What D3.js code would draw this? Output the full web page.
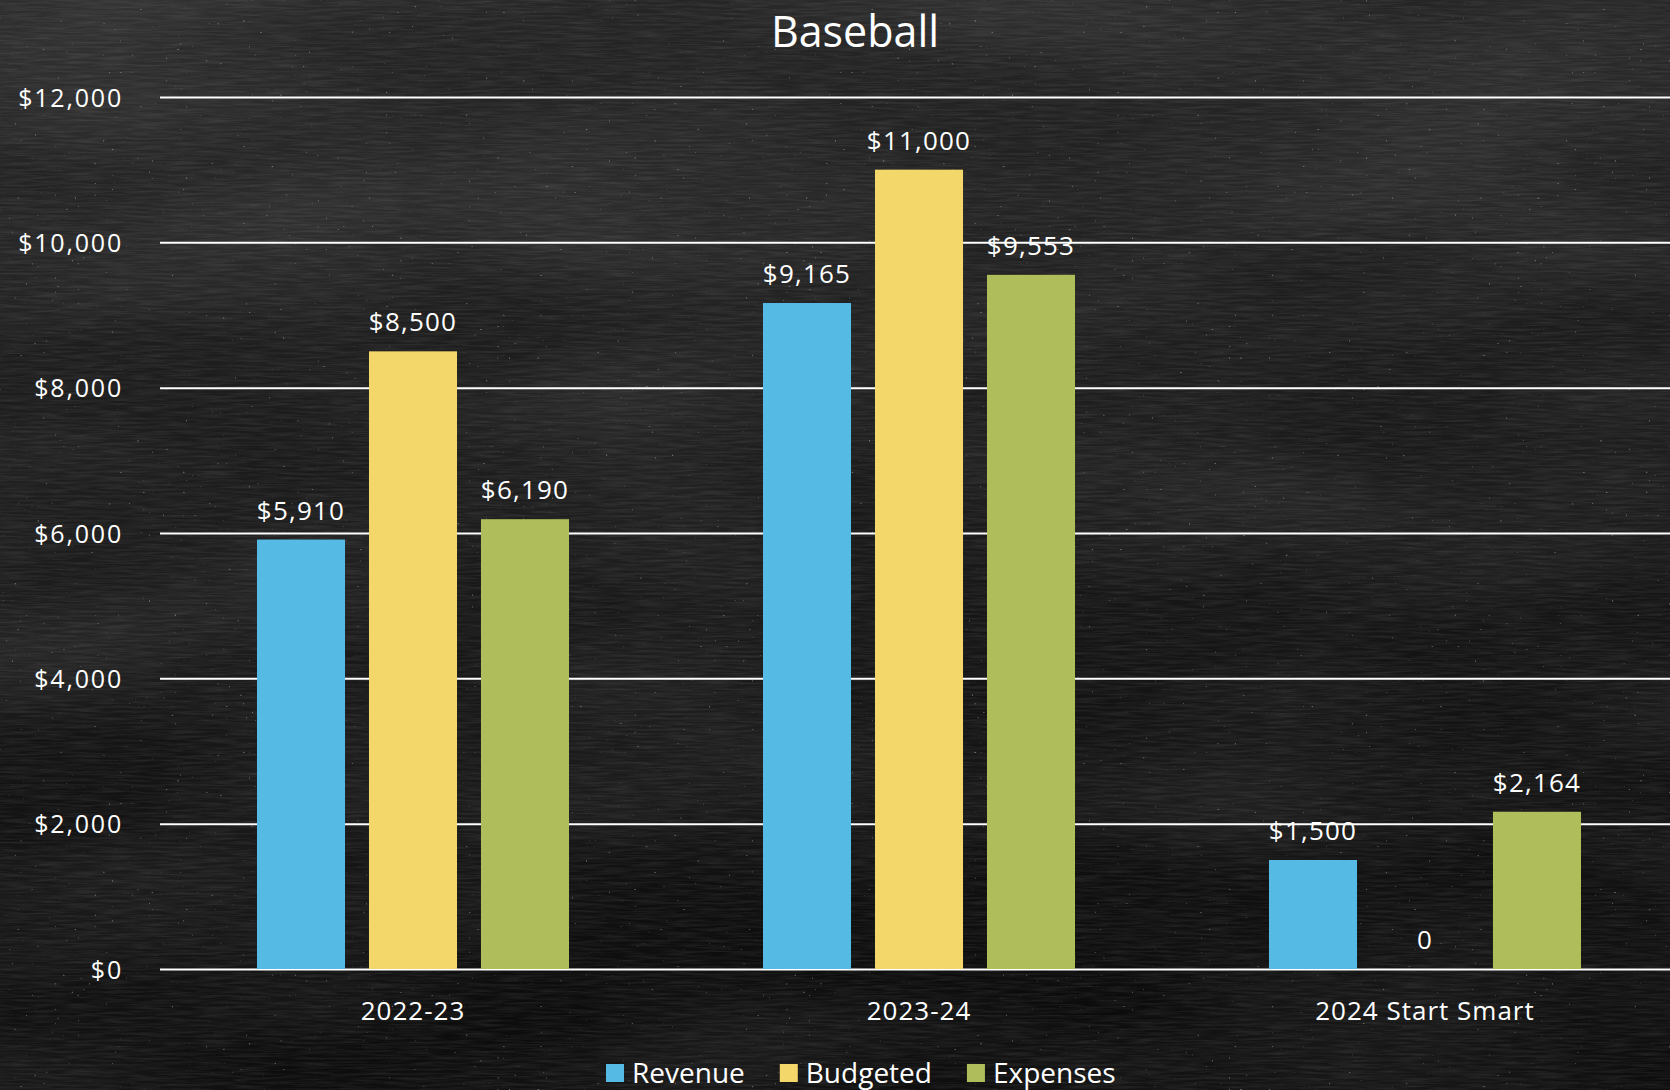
<!DOCTYPE html>
<html>
<head>
<meta charset="utf-8">
<script src="https://cdn.jsdelivr.net/npm/d3@7"></script>
<style>
  html, body { margin: 0; padding: 0; background: #161616; }
  svg { display: block; }
  text { font-family: "Open Sans", "DejaVu Sans", sans-serif; fill: #ffffff; }
</style>
</head>
<body>
<div id="chart"></div>
<script>
// Baseball budget chart

const categories = ["2022-23", "2023-24", "2024 Start Smart"];
const seriesNames = ["Revenue", "Budgeted", "Expenses"];
const revenue = [5910, 9165, 1500];
const budgeted = [8500, 11000, 0];
const expenses = [6190, 9553, 2164];
const yTicks = [0, 2000, 4000, 6000, 8000, 10000, 12000];

const colors = ["#55bae4", "#f3d76b", "#afbd5a"];

const width = 1670, height = 1090;
const margin = {top: 97, left: 160, bottom: 121};

let rows = categories.map((c, i) => ({
    category: c,
    values: [revenue[i], budgeted[i], expenses[i]]
}));

let svg = d3.select("#chart").append("svg")
    .attr("width", width)
    .attr("height", height);

// chalkboard background
let defs = svg.append("defs");
let grad = defs.append("linearGradient")
    .attr("id", "bg").attr("x1", 0.1).attr("y1", 0).attr("x2", 0.2).attr("y2", 1);
grad.append("stop").attr("offset", "0%").attr("stop-color", "#262626");
grad.append("stop").attr("offset", "50%").attr("stop-color", "#191919");
grad.append("stop").attr("offset", "100%").attr("stop-color", "#0b0b0b");

function noiseFilter(id, freq, octaves, seed, a, b) {
    let f = defs.append("filter").attr("id", id)
        .attr("x", 0).attr("y", 0).attr("width", 1).attr("height", 1);
    f.append("feTurbulence")
        .attr("type", "fractalNoise").attr("baseFrequency", freq)
        .attr("numOctaves", octaves).attr("seed", seed);
    f.append("feColorMatrix").attr("type", "matrix")
        .attr("values", `0 0 0 0 1  0 0 0 0 1  0 0 0 0 1  ${a} 0 0 0 ${b}`);
}
noiseFilter("blotch", "0.0025 0.007", 2, 11, 0.14, -0.05);
noiseFilter("grain", "0.03 0.45", 3, 7, 0.16, -0.055);
noiseFilter("specks", "0.35", 1, 3, 3.5, -2.6);

svg.append("rect").attr("width", width).attr("height", height).attr("fill", "url(#bg)");
svg.append("rect").attr("width", width).attr("height", height).attr("filter", "url(#blotch)");
svg.append("rect").attr("width", width).attr("height", height).attr("filter", "url(#grain)");
svg.append("rect").attr("width", width).attr("height", height).attr("filter", "url(#specks)");

// Scales
let y = d3.scaleLinear()
    .domain([0, 12000])
    .range([height - margin.bottom, margin.top]);

let x0 = d3.scaleBand()
    .domain(categories)
    .range([margin.left, 1678]);

let x1 = d3.scaleBand()
    .domain(seriesNames)
    .range([0, x0.bandwidth()])
    .paddingInner(0.214)
    .paddingOuter(0.866);

// Y axis + gridlines
let yAxis = d3.axisLeft(y)
    .tickValues(yTicks)
    .tickSize(-(width - margin.left))
    .tickPadding(37)
    .tickFormat(d => "$" + d3.format(",")(d));

let gy = svg.append("g")
    .attr("class", "axis y-axis")
    .attr("transform", `translate(${margin.left},0)`)
    .call(yAxis);
gy.select(".domain").remove();
gy.selectAll(".tick line").attr("stroke", "#ffffff").attr("stroke-width", 2);
gy.selectAll(".tick text")
    .attr("fill", "#ffffff")
    .style("font-size", "25px")
    .style("letter-spacing", "1.8px")
    .attr("dy", "0.36em");

// X axis labels
let xAxis = d3.axisBottom(x0).tickSize(0).tickPadding(33);
let gx = svg.append("g")
    .attr("class", "axis x-axis")
    .attr("transform", `translate(0,${y(0)})`)
    .call(xAxis);
gx.select(".domain").remove();
gx.selectAll(".tick text")
    .attr("fill", "#ffffff")
    .style("font-size", "26px")
    .style("letter-spacing", "1px");

// Bars
let groups = svg.selectAll("g.group")
    .data(rows)
    .enter().append("g")
    .attr("class", "group")
    .attr("transform", d => `translate(${x0(d.category)},0)`);

groups.selectAll("rect")
    .data(d => d.values.map((v, i) => ({name: seriesNames[i], value: v, i: i})))
    .enter().append("rect")
    .attr("x", d => x1(d.name))
    .attr("y", d => y(d.value))
    .attr("width", x1.bandwidth())
    .attr("height", d => y(0) - y(d.value))
    .attr("fill", d => colors[d.i]);

// Value labels
groups.selectAll("text.value")
    .data(d => d.values.map((v, i) => ({name: seriesNames[i], value: v, i: i})))
    .enter().append("text")
    .attr("class", "value")
    .attr("x", d => x1(d.name) + x1.bandwidth() / 2)
    .attr("y", d => y(d.value) - 20)
    .attr("text-anchor", "middle")
    .style("font-size", "26px")
    .style("letter-spacing", "1.2px")
    .text(d => d.value === 0 ? "0" : "$" + d3.format(",")(d.value));

// Title
svg.append("text")
    .attr("x", 855)
    .attr("y", 47)
    .attr("text-anchor", "middle")
    .style("font-size", "43px")
    .text("Baseball");

// Legend
let legend = svg.append("g").attr("class", "legend");
let lx = 606;
seriesNames.forEach((name, i) => {
    legend.append("rect")
        .attr("x", lx).attr("y", 1064)
        .attr("width", 18).attr("height", 18)
        .attr("fill", colors[i]);
    let t = legend.append("text")
        .attr("x", lx + 26).attr("y", 1083)
        .style("font-size", "28px")
        .text(name);
    lx += 26 + t.node().getComputedTextLength() + 35;
});
</script>
</body>
</html>
